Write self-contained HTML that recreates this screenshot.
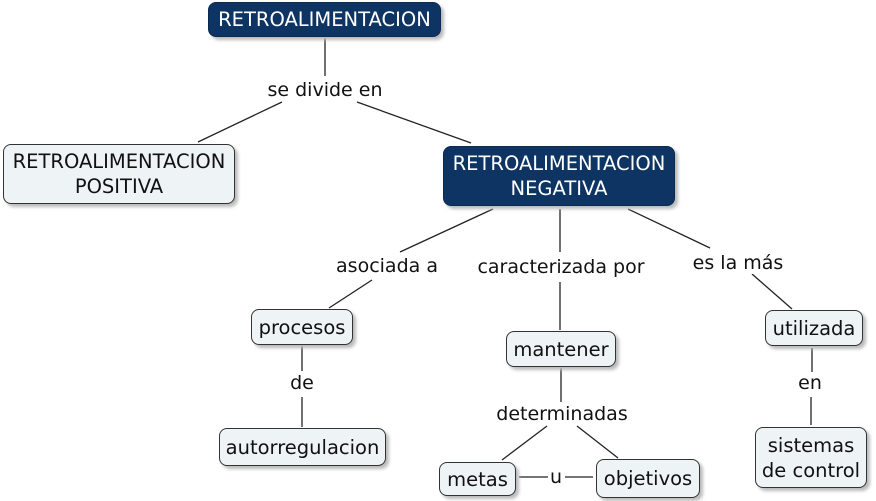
<!DOCTYPE html>
<html><head><style>
body{margin:0;width:876px;height:501px;background:#fff;position:relative;overflow:hidden;font-family:"DejaVu Sans","Liberation Sans",sans-serif;}
.n{position:absolute;box-sizing:border-box;border:1.5px solid #333;border-radius:8px;background:#eef3f5;color:#111;font-size:19.5px;line-height:25px;text-align:center;display:flex;align-items:center;justify-content:center;box-shadow:3px 3px 3px #bbb;white-space:nowrap;}
.d{background:#0d3463;color:#fff;border-color:#0a2a50;}
.l{position:absolute;font-size:19px;color:#111;transform:translate(-50%,-50%);white-space:nowrap;background:#fff;padding:0 2px;}
svg{position:absolute;left:0;top:0}
</style></head><body>
<svg width="876" height="501"><g stroke="#222" stroke-width="1.3" fill="none">
<line x1="325" y1="38" x2="325" y2="76"/><line x1="198" y1="142" x2="282" y2="102"/><line x1="357" y1="102" x2="471" y2="143"/>
<line x1="493" y1="209" x2="400" y2="252"/><line x1="372" y1="280" x2="329" y2="308"/>
<line x1="560" y1="209" x2="560" y2="252"/><line x1="560" y1="282" x2="560" y2="330"/>
<line x1="628" y1="209" x2="710" y2="248"/><line x1="752" y1="274" x2="792" y2="309"/>
<line x1="302" y1="346" x2="302" y2="371"/><line x1="302" y1="397" x2="302" y2="427"/>
<line x1="561" y1="368" x2="561" y2="402"/><line x1="547" y1="426" x2="502" y2="460"/><line x1="577" y1="426" x2="618" y2="458"/>
<line x1="519" y1="477" x2="548" y2="477"/><line x1="565" y1="477" x2="593" y2="477"/>
<line x1="812" y1="348" x2="812" y2="372"/><line x1="811" y1="397" x2="811" y2="425"/>
</g></svg>
<div class="n d" style="left:208px;top:2px;width:233px;height:35px">RETROALIMENTACION</div>
<div class="n" style="left:3px;top:144px;width:232px;height:60px">RETROALIMENTACION<br>POSITIVA</div>
<div class="n d" style="left:443px;top:146px;width:232px;height:60px">RETROALIMENTACION<br>NEGATIVA</div>
<div class="n" style="left:251px;top:309px;width:102px;height:36px">procesos</div>
<div class="n" style="left:219px;top:428px;width:167px;height:38px">autorregulacion</div>
<div class="n" style="left:506px;top:331px;width:110px;height:36px">mantener</div>
<div class="n" style="left:439px;top:462px;width:77px;height:34px">metas</div>
<div class="n" style="left:596px;top:459px;width:104px;height:39px">objetivos</div>
<div class="n" style="left:765px;top:310px;width:98px;height:36px">utilizada</div>
<div class="n" style="left:755px;top:427px;width:112px;height:61px">sistemas<br>de control</div>
<div class="l" style="left:325px;top:90px">se divide en</div>
<div class="l" style="left:387px;top:266px">asociada a</div>
<div class="l" style="left:561px;top:267px">caracterizada por</div>
<div class="l" style="left:738px;top:263px">es la más</div>
<div class="l" style="left:302px;top:383px">de</div>
<div class="l" style="left:562px;top:414px">determinadas</div>
<div class="l" style="left:556px;top:477px">u</div>
<div class="l" style="left:810px;top:383px">en</div>
</body></html>
